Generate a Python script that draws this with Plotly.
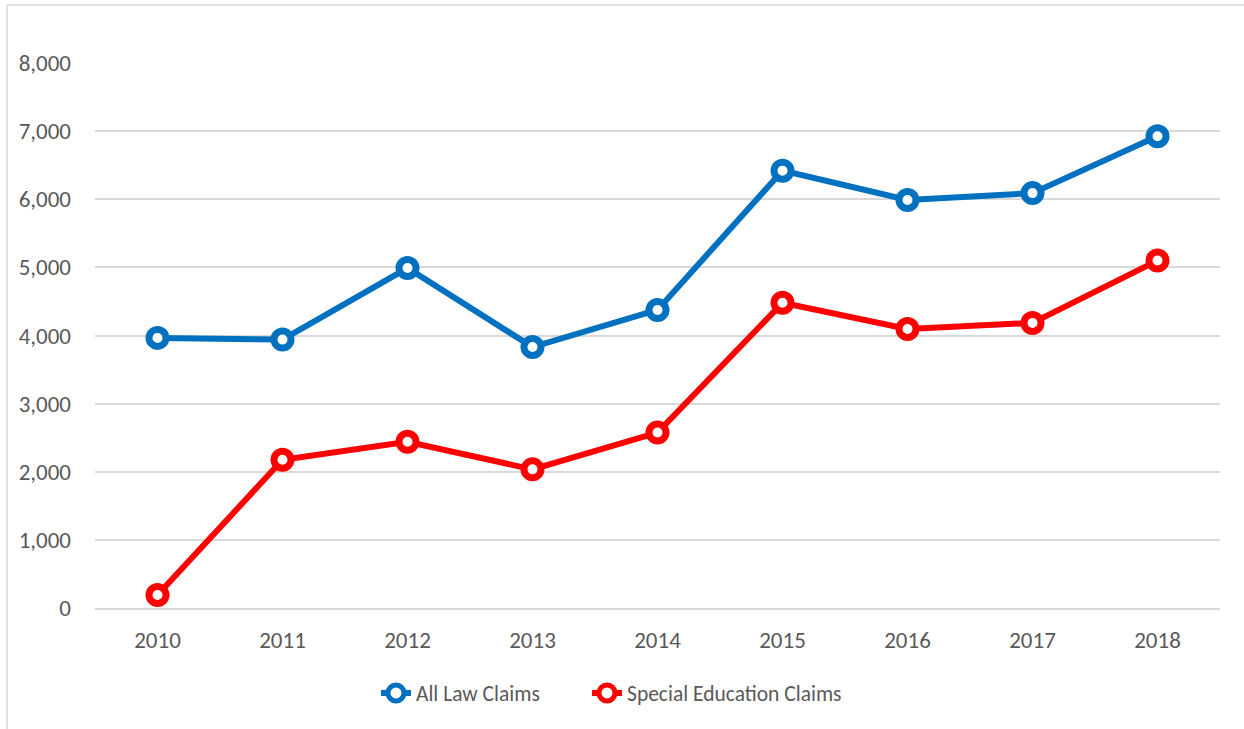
import plotly.graph_objects as go

# ── Data ──────────────────────────────────────────────────────────────────────
years = ["2010", "2011", "2012", "2013", "2014", "2015", "2016", "2017", "2018"]
all_law_claims = [3965, 3940, 4990, 3830, 4375, 6420, 5990, 6090, 6925]
special_ed_claims = [190, 2175, 2440, 2035, 2575, 4480, 4095, 4185, 5100]

y_ticks = [0, 1000, 2000, 3000, 4000, 5000, 6000, 7000, 8000]

FONT = "Calibri, Carlito, Lato, sans-serif"
TEXT = "#595959"
GRID = "#D9D9D9"

# plot area in pixels (used to place the outer border in paper coords)
L, R, T, B = 95, 24, 63, 121
W, H = 1244, 729
PW, PH = W - L - R, H - T - B


def px_x(px):
    return (px - L) / PW


def px_y(py):
    return (H - B - py) / PH


series = [("All Law Claims", all_law_claims, "#0070C0", "legend"),
          ("Special Education Claims", special_ed_claims, "#FF0000", "legend2")]

fig = go.Figure()
for name, vals, col, leg in series:
    fig.add_trace(go.Scatter(
        x=years, y=vals, name=name, mode="lines+markers",
        line=dict(color=col, width=6),
        marker=dict(symbol="circle", size=17, color="white",
                    line=dict(color=col, width=7)),
        cliponaxis=False, legend=leg,
    ))

_LEG = dict(orientation="h", xanchor="left", y=px_y(693), yanchor="middle",
            font=dict(family=FONT, size=21.5, color=TEXT),
            itemwidth=30, bgcolor="rgba(0,0,0,0)")

fig.update_layout(
    width=W, height=H,
    paper_bgcolor="white", plot_bgcolor="white",
    font=dict(family=FONT, size=23, color=TEXT),
    margin=dict(l=L, r=R, t=T, b=B, autoexpand=False),
    showlegend=True,
    legend=dict(**_LEG, x=px_x(376)),
    legend2=dict(**_LEG, x=px_x(587)),
    xaxis=dict(type="category", range=[-0.5, 8.5], showgrid=False,
               showline=True, linecolor=GRID, linewidth=1.5,
               ticks="", ticklabelstandoff=11, zeroline=False),
    yaxis=dict(range=[0, 8000], tickvals=y_ticks, tickformat=",",
               showgrid=True, gridcolor=GRID, gridwidth=1.5,
               zeroline=False, showline=False, ticks="",
               ticklabelstandoff=23),
    shapes=[
        dict(type="line", xref="paper", yref="paper",
             x0=px_x(7), x1=px_x(1250), y0=px_y(5), y1=px_y(5),
             line=dict(color=GRID, width=1.5)),
        dict(type="line", xref="paper", yref="paper",
             x0=px_x(7), x1=px_x(7), y0=px_y(5), y1=px_y(735),
             line=dict(color=GRID, width=1.5)),
    ],
)

# drop the default 8px page margin so the figure sits at the window origin
fig.write_html("out.html", config={"displayModeBar": False},
               post_script="document.body.style.margin='0';")
